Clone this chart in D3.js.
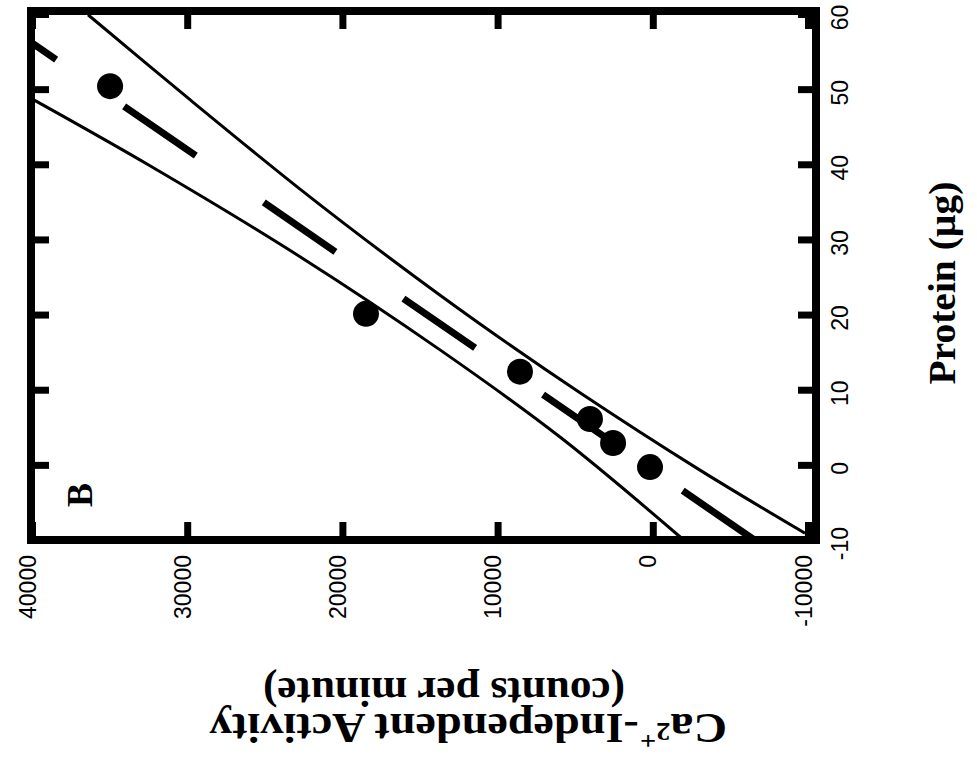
<!DOCTYPE html>
<html>
<head>
<meta charset="utf-8">
<script src="https://cdn.jsdelivr.net/npm/d3@7"></script>
<style>
  html, body { margin: 0; padding: 0; background: #fff; }
</style>
</head>
<body>
<svg id="chart" width="977" height="760"></svg>
<script>
// Axis tick values
const activityTicks = [-10000, 0, 10000, 20000, 30000, 40000];
const proteinTicks = [-10, 0, 10, 20, 30, 40, 50, 60];

// Measured samples: protein (µg) against Ca2+-independent activity (cpm)
const sampleProtein = [50.4, 20.1, 12.4, 6.1, 2.9, -0.3];
const sampleActivity = [34970, 18480, 8560, 4050, 2560, 180];

// Regression line end points
const fitProtein = [-10, 60];
const fitActivity = [-6545, 42715];

// Confidence band, low-activity side
const bandLowProtein = [59.9, 48.6, 36.7, 27.5, 18.75, 9.6, -0.7, -9.1];
const bandLowActivity = [36390, 29820, 22730, 16930, 11130, 4690, -3040, -9810];

// Confidence band, high-activity side
const bandHighProtein = [48.7, 39.8, 27.7, 15.3, 3.7, -9.8];
const bandHighActivity = [40000, 32400, 22730, 13710, 5980, -1880];

// The figure is printed a quarter turn round: activity runs across
// (falling to the right) and protein runs up the page.
const frame = { left: 31, right: 816, top: 11, bottom: 540 };
const svg = d3.select("#chart");

const x = d3.scaleLinear().domain([40000, -10000]).range([32, 808]);
const y = d3.scaleLinear().domain([-10, 60]).range([540, 14]);

const zip = (ps, as) => ps.map((p, i) => ({ p, a: as[i] }));
const samples = zip(sampleProtein, sampleActivity);
const fit = zip(fitProtein, fitActivity);
const bandLow = zip(bandLowProtein, bandLowActivity);
const bandHigh = zip(bandHighProtein, bandHighActivity);

svg.append("defs").append("clipPath").attr("id", "plot-clip")
  .append("rect")
  .attr("x", frame.left).attr("y", frame.top)
  .attr("width", frame.right - frame.left)
  .attr("height", frame.bottom - frame.top);

const plot = svg.append("g").attr("clip-path", "url(#plot-clip)");

const line = d3.line().x(d => x(d.a)).y(d => y(d.p));
const curve = d3.line().x(d => x(d.a)).y(d => y(d.p)).curve(d3.curveCatmullRom.alpha(0.5));

// confidence band edges
[bandLow, bandHigh].forEach(b => {
  plot.append("path")
    .attr("d", curve(b))
    .attr("fill", "none")
    .attr("stroke", "#000")
    .attr("stroke-width", 3);
});

// long-dashed regression line
plot.append("path")
  .attr("d", line(fit))
  .attr("fill", "none")
  .attr("stroke", "#000")
  .attr("stroke-width", 7)
  .attr("stroke-dasharray", "87,82.5");

// data points
plot.selectAll("circle.pt")
  .data(samples)
  .join("circle")
  .attr("class", "pt")
  .attr("cx", d => x(d.a))
  .attr("cy", d => y(d.p))
  .attr("r", 13)
  .attr("fill", "#000");

// axes: ticks point inwards on all four sides
function styleTicks(g) {
  g.select(".domain").remove();
  g.selectAll(".tick line").attr("stroke", "#000").attr("stroke-width", 7);
}

const labelFont = "'Liberation Sans', Arial, Helvetica, sans-serif";

const bottomAxis = svg.append("g")
  .attr("transform", `translate(0,${frame.bottom})`)
  .call(d3.axisBottom(x).tickValues(activityTicks).tickSize(-18).tickFormat(d => String(d)))
  .attr("font-size", 23).attr("font-family", labelFont);
styleTicks(bottomAxis);
bottomAxis.selectAll(".tick text")
  .attr("fill", "#000")
  .attr("transform", "rotate(-90)")
  .attr("text-anchor", "end")
  .attr("x", -15).attr("y", 3).attr("dy", null);

const topAxis = svg.append("g")
  .attr("transform", `translate(0,${frame.top})`)
  .call(d3.axisTop(x).tickValues(activityTicks).tickSize(-18).tickFormat(""));
styleTicks(topAxis);

const rightAxis = svg.append("g")
  .attr("transform", `translate(${frame.right},0)`)
  .call(d3.axisRight(y).tickValues(proteinTicks).tickSize(-18).tickFormat(d => String(d)))
  .attr("font-size", 23).attr("font-family", labelFont);
styleTicks(rightAxis);
rightAxis.selectAll(".tick text")
  .attr("fill", "#000")
  .attr("transform", "rotate(-90)")
  .attr("text-anchor", "middle")
  .attr("x", -3).attr("y", 32).attr("dy", null);

const leftAxis = svg.append("g")
  .attr("transform", `translate(${frame.left},0)`)
  .call(d3.axisLeft(y).tickValues(proteinTicks).tickSize(-18).tickFormat(""));
styleTicks(leftAxis);

// heavy frame
svg.append("rect")
  .attr("x", frame.left).attr("y", frame.top)
  .attr("width", frame.right - frame.left)
  .attr("height", frame.bottom - frame.top)
  .attr("fill", "none")
  .attr("stroke", "#000")
  .attr("stroke-width", 8);

const titleFont = "'Liberation Serif', 'Times New Roman', Times, serif";

// panel letter
svg.append("text")
  .attr("transform", "translate(92,495) rotate(-90)")
  .attr("text-anchor", "middle")
  .attr("font-family", titleFont)
  .attr("font-weight", "bold")
  .attr("font-size", 36)
  .text("B");

// protein axis title
svg.append("text")
  .attr("transform", "translate(955,283) rotate(-90) scale(1.04,1)")
  .attr("text-anchor", "middle")
  .attr("font-family", titleFont)
  .attr("font-weight", "bold")
  .attr("font-size", 38)
  .text("Protein (µg)");

// activity axis title (two lines, upside down)
const t1 = svg.append("text")
  .attr("transform", "translate(468,714) rotate(180) scale(1.1,1)")
  .attr("text-anchor", "middle")
  .attr("font-family", titleFont)
  .attr("font-weight", "bold")
  .attr("font-size", 42);
t1.append("tspan").text("Ca");
t1.append("tspan").attr("font-size", 26).attr("dy", -9).text("2");
t1.append("tspan").attr("font-size", 26).attr("dy", -9).text("+");
t1.append("tspan").attr("dx", 1).attr("dy", 18).text("-Independent Activity");

svg.append("text")
  .attr("transform", "translate(444,678) rotate(180) scale(1.03,1)")
  .attr("text-anchor", "middle")
  .attr("font-family", titleFont)
  .attr("font-weight", "bold")
  .attr("font-size", 42)
  .text("(counts per minute)");
</script>
</body>
</html>
